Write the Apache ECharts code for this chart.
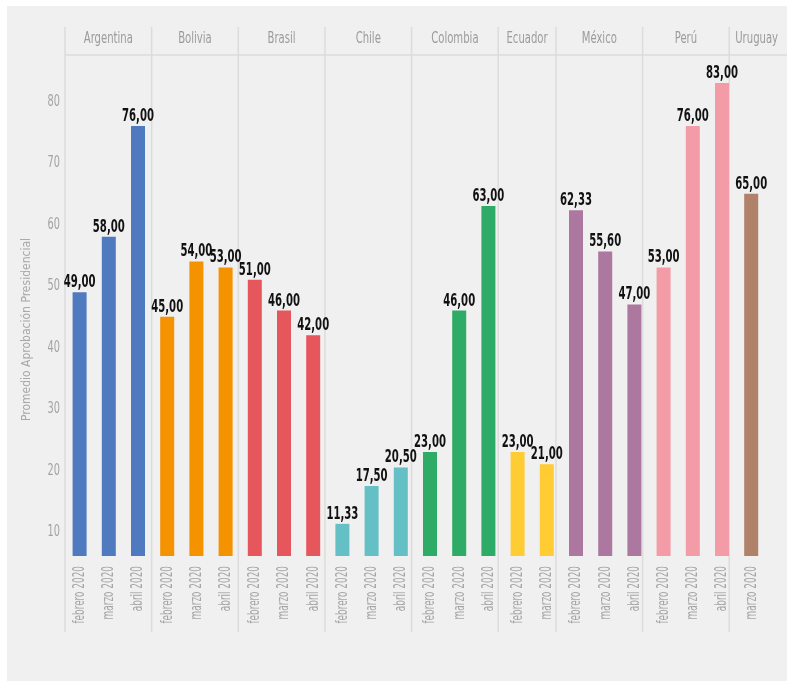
<!DOCTYPE html>
<html>
<head>
<meta charset="utf-8">
<script src="https://cdn.jsdelivr.net/npm/echarts@6/dist/echarts.min.js"></script>
<style>html,body{margin:0;padding:0;background:#fff}#c{width:787px;height:681px}</style>
</head>
<body>
<div id="c"></div>
<script>
// ---- data ----
const countries = ['Argentina','Bolivia','Brasil','Chile','Colombia','Ecuador','México','Perú','Uruguay'];
const countryMonths = [
  ['febrero 2020','marzo 2020','abril 2020'],
  ['febrero 2020','marzo 2020','abril 2020'],
  ['febrero 2020','marzo 2020','abril 2020'],
  ['febrero 2020','marzo 2020','abril 2020'],
  ['febrero 2020','marzo 2020','abril 2020'],
  ['febrero 2020','marzo 2020'],
  ['febrero 2020','marzo 2020','abril 2020'],
  ['febrero 2020','marzo 2020','abril 2020'],
  ['marzo 2020']
];
const countryValues = [
  [49, 58, 76],
  [45, 54, 53],
  [51, 46, 42],
  [11.33, 17.5, 20.5],
  [23, 46, 63],
  [23, 21],
  [62.33, 55.6, 47],
  [53, 76, 83],
  [65]
];
const yTicks = [10, 20, 30, 40, 50, 60, 70, 80];
const countryColors = ['#4f7abf','#f49200','#e5575c','#64c0c4','#2eab66','#ffcd33','#ad78a0','#f39ba6','#b0826a'];

// ---- build ----
const FAM = '"DejaVu Sans Condensed","DejaVu Sans",sans-serif';
const cats = [], vals = [], owner = [], starts = [], counts = [];
countries.forEach((c, i) => {
  starts.push(cats.length);
  counts.push(countryMonths[i].length);
  countryMonths[i].forEach((m, j) => {
    cats.push(c + '|' + m);
    vals.push(countryValues[i][j]);
    owner.push(i);
  });
});
const N = cats.length;
const SLOT = 29.2;
const LEFT = 65;
const Y_MIN = 6.1, Y_MAX = 87.56;

function sText(x, y, text, o) {
  return {
    type: 'text', x: x, y: y, rotation: o.rotation || 0, scaleX: o.sx, scaleY: 1, silent: true,
    style: {
      legacy: false, text: text, fill: o.fill,
      font: (o.weight || 'normal') + ' ' + o.size + 'px ' + FAM,
      align: o.align, verticalAlign: o.valign
    }
  };
}

const chart = echarts.init(document.getElementById('c'), null, {renderer: 'canvas'});
chart.setOption({
  backgroundColor: '#ffffff',
  animation: false,
  graphic: [{type: 'rect', z: -10, silent: true, shape: {x: 7, y: 6, width: 780, height: 675}, style: {fill: '#f0f0f0'}}],
  grid: [
    {left: LEFT, top: 55, width: N * SLOT, height: 501},
    {left: LEFT, top: 27, width: (N + 1) * SLOT, height: 605},
    {left: LEFT, top: 27, width: (N + 1) * SLOT, height: 28}
  ],
  xAxis: [
    {gridIndex: 0, type: 'category', data: cats,
     axisLine: {show: false}, axisTick: {show: false}, splitLine: {show: false}, axisLabel: {show: false}},
    {gridIndex: 1, type: 'value', min: 0, max: N + 1, show: false},
    {gridIndex: 2, type: 'value', min: 0, max: N + 1,
     axisLine: {show: true, onZero: false, lineStyle: {color: '#dcdcdc', width: 1.5}},
     axisTick: {show: false}, axisLabel: {show: false}, splitLine: {show: false}}
  ],
  yAxis: [
    {gridIndex: 0, type: 'value', min: Y_MIN, max: Y_MAX, splitNumber: 8,
     axisLine: {show: false}, axisTick: {show: false}, splitLine: {show: false}, axisLabel: {show: false}},
    {gridIndex: 1, type: 'value', min: 0, max: 1,
     axisLine: {show: false}, axisTick: {show: false}, axisLabel: {show: false}, splitLine: {show: false},
     name: 'Promedio Aprobación Presidencial', nameLocation: 'middle', nameGap: 32,
     nameTextStyle: {color: '#a8a8a8', fontSize: 12, fontFamily: FAM}},
    {gridIndex: 2, type: 'value', min: 0, max: 1, show: false}
  ],
  series: [
    {
      type: 'bar', xAxisIndex: 0, yAxisIndex: 0, barWidth: 14,
      data: vals.map((v, i) => ({value: v, itemStyle: {color: countryColors[owner[i]]}}))
    },
    // value labels above bars
    {
      type: 'custom', xAxisIndex: 0, yAxisIndex: 0, silent: true, z: 5,
      data: vals.map((v, i) => [i, v]), encode: {x: 0, y: 1},
      renderItem: (params, api) => {
        const p = api.coord([api.value(0), api.value(1)]);
        return sText(p[0], p[1] - 1, api.value(1).toFixed(2).replace('.', ','),
          {sx: 0.66, size: 17, weight: 'bold', fill: '#111111', align: 'center', valign: 'bottom'});
      }
    },
    // category (month) labels, rotated
    {
      type: 'custom', xAxisIndex: 0, yAxisIndex: 0, silent: true,
      data: cats.map((c, i) => [i, Y_MIN]), encode: {x: 0, y: 1},
      renderItem: (params, api) => {
        const i = api.value(0);
        const p = api.coord([i, Y_MIN]);
        const cs = params.coordSys;
        return sText(p[0] + 0.5, cs.y + cs.height + 10, cats[i].split('|')[1],
          {sx: 0.66, size: 15, fill: '#a6a6a6', align: 'right', valign: 'middle', rotation: Math.PI / 2});
      }
    },
    // y tick labels
    {
      type: 'custom', xAxisIndex: 0, yAxisIndex: 0, silent: true,
      data: yTicks.map(v => [0, v]), encode: {x: 0, y: 1},
      renderItem: (params, api) => {
        const p = api.coord([0, api.value(1)]);
        const cs = params.coordSys;
        return sText(cs.x - 5, p[1], String(api.value(1)),
          {sx: 0.68, size: 16, fill: '#a3a3a3', align: 'right', valign: 'middle'});
      }
    },
    // panel separators
    {
      type: 'custom', xAxisIndex: 1, yAxisIndex: 1, silent: true,
      data: starts.map(s => [s, 0]), encode: {x: 0, y: 1},
      renderItem: (params, api) => {
        const x = api.coord([api.value(0), 0])[0];
        const cs = params.coordSys;
        return {type: 'line', shape: {x1: x, y1: cs.y, x2: x, y2: cs.y + cs.height},
                style: {stroke: '#dcdcdc', lineWidth: 1.5}};
      }
    },
    // panel headers
    {
      type: 'custom', xAxisIndex: 2, yAxisIndex: 2, silent: true,
      data: countries.map((c, i) => [starts[i], counts[i]]), encode: {x: 0},
      renderItem: (params, api) => {
        const i = params.dataIndex;
        const s = api.value(0), n = api.value(1);
        const cs = params.coordSys;
        const y = cs.y + cs.height / 2 - 2;
        if (n === 1) {
          const x0 = api.coord([s, 0.5])[0];
          return sText(x0 + 6, y, countries[i], {sx: 0.7, size: 16, fill: '#9b9b9b', align: 'left', valign: 'middle'});
        }
        const xc = api.coord([s + n / 2, 0.5])[0];
        return sText(xc, y, countries[i], {sx: 0.7, size: 16, fill: '#9b9b9b', align: 'center', valign: 'middle'});
      }
    }
  ]
});
</script>
</body>
</html>
